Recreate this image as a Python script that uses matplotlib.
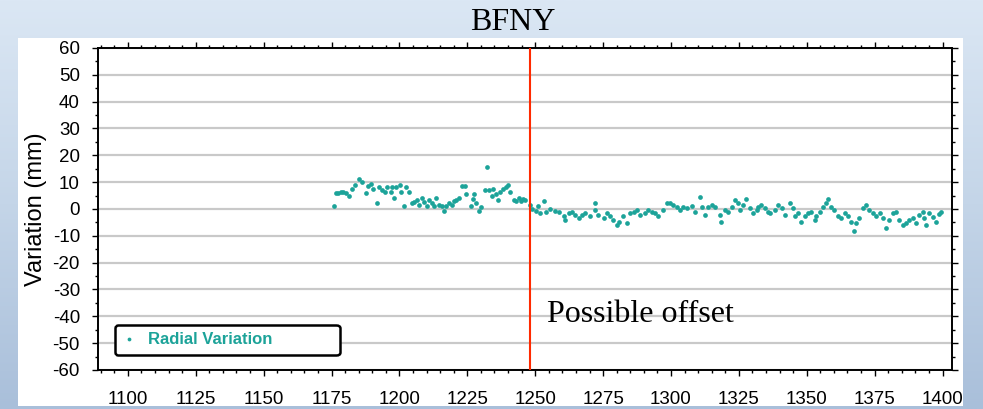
import numpy as np
import matplotlib
matplotlib.use('Agg')
import matplotlib.pyplot as plt
from matplotlib.patches import Rectangle
from matplotlib.ticker import MultipleLocator

plt.rcParams['axes.unicode_minus'] = False

# radial variation of station BFNY (day number, mm)
days_before = [1175.8, 1176.6, 1177.5, 1178.4, 1179.3, 1180.3, 1181.5, 1182.5, 1183.7, 1185.2,
               1186.2, 1187.6, 1188.3, 1189.5, 1190.3, 1191.6, 1192.3, 1193.5, 1194.7, 1195.6,
               1196.8, 1197.4, 1198.1, 1198.9, 1200.1, 1200.5, 1201.7, 1202.6, 1203.6, 1204.6,
               1205.4, 1206.3, 1207.2, 1208.2, 1209.1, 1210.1, 1210.9, 1211.9, 1212.7, 1213.6,
               1214.6, 1215.6, 1216.4, 1217.3, 1218.3, 1219.2, 1220.1, 1220.9, 1221.9, 1223.1,
               1224.1, 1224.4, 1226.2, 1227.1, 1227.4, 1228.1, 1229.3, 1229.9, 1231.5, 1232.3,
               1233.0, 1234.0, 1234.4, 1235.4, 1236.4, 1237.2, 1238.1, 1239.1, 1240.0, 1240.9,
               1242.1, 1243.0, 1244.0, 1244.6, 1245.4, 1246.4, 1247.9]
vals_before = [1.2, 6.0, 6.0, 6.2, 6.5, 6.0, 4.7, 7.4, 9.0, 11.1,
               10.2, 5.9, 8.4, 9.4, 7.4, 2.2, 8.1, 7.2, 6.2, 8.1,
               6.2, 8.1, 4.1, 8.1, 9.0, 6.5, 1.2, 8.1, 6.5, 2.2,
               2.5, 3.2, 1.6, 4.1, 2.5, 1.2, 3.2, 2.2, 1.2, 4.1,
               1.6, 1.0, -0.9, 1.2, 2.2, 1.6, 2.8, 3.5, 4.1, 8.6,
               8.4, 5.7, 1.2, 3.7, 5.7, 2.2, -0.9, 0.7, 6.9, 15.6,
               6.9, 4.7, 7.4, 5.7, 3.2, 6.2, 7.4, 8.1, 9.0, 6.2,
               3.5, 2.8, 4.1, 2.8, 3.7, 3.5, 1.6]

days_after = [1248.8, 1250.3, 1251.0, 1251.9, 1253.1, 1254.0, 1255.6, 1257.2, 1258.6, 1260.5,
              1261.1, 1262.3, 1263.5, 1264.8, 1266.0, 1267.2, 1268.4, 1270.3, 1271.9, 1272.1,
              1273.3, 1275.2, 1276.4, 1277.6, 1278.8, 1280.1, 1280.7, 1282.5, 1283.7, 1285.0,
              1286.2, 1287.4, 1288.6, 1290.5, 1291.7, 1292.9, 1294.1, 1295.4, 1297.2, 1298.4,
              1299.6, 1300.9, 1302.1, 1303.3, 1304.5, 1305.8, 1307.6, 1308.8, 1310.7, 1311.3,
              1312.5, 1313.7, 1315.0, 1316.2, 1318.0, 1318.6, 1319.8, 1321.1, 1322.3, 1323.5,
              1324.7, 1325.3, 1326.6, 1327.8, 1329.0, 1330.2, 1331.5, 1332.1, 1333.3, 1334.5,
              1335.8, 1336.4, 1338.2, 1339.4, 1340.7, 1341.9, 1343.7, 1344.9, 1345.5, 1346.8,
              1348.0, 1349.2, 1350.4, 1351.7, 1352.9, 1353.5, 1354.7, 1356.0, 1357.2, 1358.0,
              1359.0, 1360.2, 1361.5, 1362.7, 1363.9, 1365.1, 1366.4, 1367.3, 1368.2, 1369.4,
              1370.6, 1371.9, 1373.1, 1374.3, 1375.5, 1376.8, 1378.0, 1379.2, 1380.4, 1381.7,
              1382.9, 1384.1, 1385.3, 1386.6, 1387.8, 1389.0, 1390.2, 1391.4, 1392.7, 1393.3,
              1393.9, 1395.1, 1396.5, 1397.5, 1398.6, 1399.3]
vals_after = [0.0, -0.9, 1.0, -1.5, 2.8, -1.2, 0.0, -0.9, -1.0, -2.8,
              -4.0, -1.6, -1.0, -2.2, -3.4, -2.2, -1.6, -2.8, 2.1, -0.4,
              -2.2, -3.4, -1.6, -2.8, -4.0, -5.9, -4.7, -2.8, -5.3, -1.6,
              -1.0, -0.4, -2.2, -1.6, -0.4, -1.0, -1.6, -2.8, -0.4, 2.1,
              2.1, 1.5, 0.9, -0.4, 0.6, 0.2, 1.1, -1.0, 4.5, 0.9,
              -2.2, 0.9, 1.5, 0.9, -2.2, -4.7, -0.4, -1.0, 0.9, 3.3,
              2.1, -0.4, 1.5, 3.9, 0.2, -1.6, -0.4, 0.9, 1.5, 0.2,
              -1.0, -1.6, -0.4, 1.5, 0.2, -2.2, 2.1, 0.2, -2.8, -1.6,
              -4.7, -2.8, -1.6, -1.0, -4.0, -2.8, -1.0, 0.9, 2.1, 3.9,
              0.9, -0.4, -2.8, -3.4, -1.6, -2.8, -4.7, -8.3, -5.3, -3.4,
              0.2, 1.5, -0.4, -1.6, -2.8, -1.6, -3.4, -7.1, -4.0, -1.6,
              -1.0, -4.0, -5.9, -5.3, -4.0, -3.4, -5.3, -2.2, -1.0, -3.4,
              -5.9, -1.6, -3.0, -5.0, -2.0, -1.0]

offset_day = 1248
x_ticks = [1100, 1125, 1150, 1175, 1200, 1225, 1250, 1275, 1300, 1325, 1350, 1375, 1400]
y_ticks = [60, 50, 40, 30, 20, 10, 0, -10, -20, -30, -40, -50, -60]

teal = '#1ca399'

fig = plt.figure(figsize=(9.83, 4.09), dpi=100)

# hazy blue backdrop with a white panel behind the plot
bg = fig.add_axes([0, 0, 1, 1])
bg.set_zorder(-2)
bg.axis('off')
grad = np.linspace(0, 1, 256).reshape(-1, 1)
grad = np.hstack([grad, grad])
cmap = matplotlib.colors.LinearSegmentedColormap.from_list('haze', ['#dbe7f4', '#c4d5e8', '#a9bfda'])
bg.imshow(grad, aspect='auto', cmap=cmap, extent=[0, 983, 409, 0])
bg.set_xlim(0, 983)
bg.set_ylim(409, 0)
bg.add_patch(Rectangle((18, 38), 945, 368, facecolor='white', edgecolor='none'))

ax = fig.add_axes([0.0997, 0.0954, 0.8688, 0.7873])
ax.set_facecolor('white')

ax.plot(days_before + days_after, vals_before + vals_after, 'o', color=teal,
        markersize=3.4, markeredgewidth=0, label='Radial Variation', zorder=3)
ax.axvline(offset_day, color='#ff2a00', linewidth=1.5, zorder=4)

ax.set_xlim(1089, 1403.5)
ax.set_ylim(-60, 60)
ax.set_xticks(x_ticks)
ax.set_yticks(y_ticks)
ax.xaxis.set_minor_locator(MultipleLocator(5))
ax.yaxis.set_minor_locator(MultipleLocator(5))
ax.grid(axis='y', which='major', color='#c9c9c9', linewidth=1.6, zorder=1)
ax.set_axisbelow(True)

for s in ax.spines.values():
    s.set_linewidth(1.4)
    s.set_color('black')

ax.tick_params(which='both', direction='out', top=True, right=True, width=1.0, colors='black')
ax.tick_params(which='major', length=4, labelsize=13.5, pad=9)
ax.tick_params(which='minor', length=2.5)
ax.tick_params(axis='x', pad=11)
for lab in ax.get_xticklabels() + ax.get_yticklabels():
    lab.set_family('Liberation Sans')

ax.set_ylabel('Variation (mm)', fontsize=17, family='Liberation Sans', labelpad=4)

leg = ax.legend(loc='lower left', bbox_to_anchor=(0.02, 0.047, 0.263, 0.102), mode='expand',
                borderaxespad=0, fancybox=True, handlelength=0.8, handletextpad=0.7,
                borderpad=0.45, markerscale=0.8,
                prop={'family': 'Liberation Sans', 'weight': 'bold', 'size': 12})
leg.get_frame().set_edgecolor('black')
leg.get_frame().set_linewidth(1.8)
leg.get_frame().set_alpha(1)
for t in leg.get_texts():
    t.set_color(teal)

ax.text(1254.2, -42.1, 'Possible offset', family='Liberation Serif', fontsize=23,
        va='baseline', ha='left', zorder=5)

fig.text(513 / 983, 1 - 22.5 / 409, 'BFNY', ha='center', va='center',
         family='Liberation Serif', fontsize=23)

fig.savefig('out.png', dpi=100)
